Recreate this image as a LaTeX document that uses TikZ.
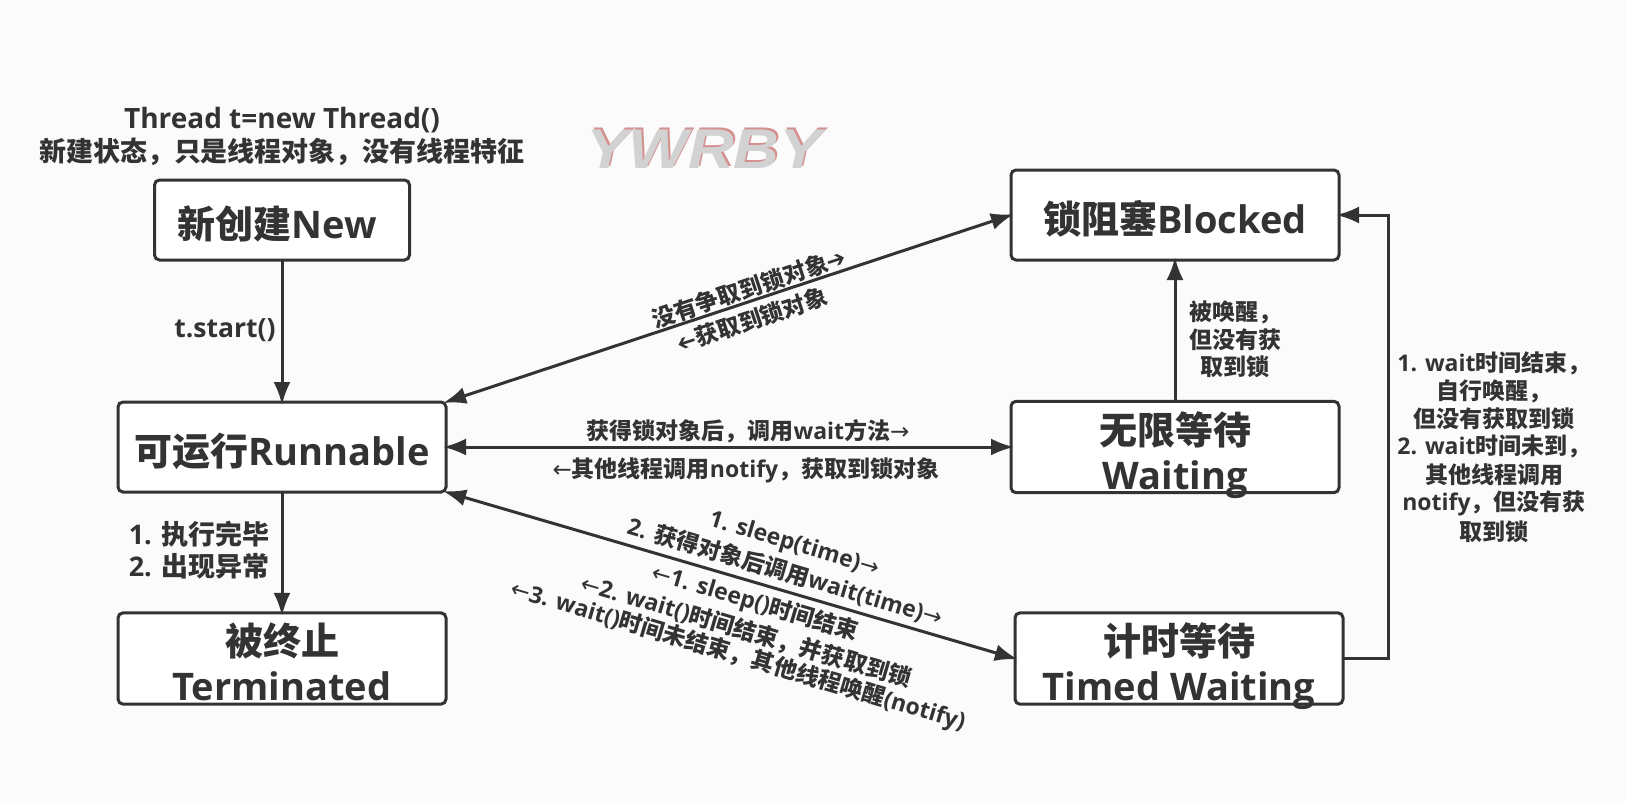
\documentclass[tikz,border=0pt]{standalone}
\usepackage{fontspec}
\usetikzlibrary{arrows.meta}
\setmainfont{Open Sans}
\newfontfamily\cjk{Noto Sans CJK SC}
\newfontfamily\arrowfont{DejaVu Sans}
\newfontfamily\markfont{Liberation Sans}
\newcommand\zh[1]{{\cjk #1}}
\newcommand\ra{{\arrowfont\mdseries→}}
\newcommand\la{{\arrowfont\mdseries←}}
\newcommand\rb{{\arrowfont\mdseries ➔}}
\newcommand\lb{\reflectbox{\arrowfont\mdseries ➔}}
\newcommand\oneline[1]{\raisebox{-4pt}[\height][\depth]{#1}}
\newcommand\twolines[2]{\raisebox{-10pt}[\height][\depth]{\begin{tabular}{@{}c@{}}#1\\#2\end{tabular}}}
\definecolor{ink}{HTML}{333333}
\definecolor{paper}{HTML}{FBFBFB}
\tikzset{
  state/.style={draw=ink,line width=3pt,rounded corners=5pt,fill=white,text=ink,inner sep=0pt,outer sep=0pt,
    minimum width=#1,minimum height=90pt,font=\fontsize{38}{45}\selectfont\bfseries,align=center},
  link/.style={draw=ink,line width=3pt,shorten >=-3pt,-{Latex[length=23pt,width=17pt]}},
  bothlink/.style={draw=ink,line width=3pt,shorten >=-3pt,shorten <=-3pt,{Latex[length=23pt,width=17pt]}-{Latex[length=23pt,width=17pt]}},
  lab/.style={text=ink,inner sep=0pt,align=center,font=\fontsize{#1}{#1}\selectfont\bfseries},
  lab/.default=23,
  headtext/.style={text=ink,inner sep=0pt,align=center,font=\fontsize{27}{33}\selectfont\bfseries},
  wmark/.style={inner sep=0pt,xscale=1.13,font=\fontsize{56}{56}\selectfont\markfont\bfseries\itshape}
}
\begin{document}
\begin{tikzpicture}[x=1pt,y=-1pt]
\useasboundingbox (0,0) rectangle (1626,801);
\fill[paper] (0,0) rectangle (1626,801);

\node[wmark,text=red!45!gray!60] (wmred) at (706,147) {YWRBY};
\node[wmark,text=gray!35] (wm) at (704,149) {YWRBY};

\node[headtext] (head) at (282,136) {{\fontsize{28}{33}\selectfont Thread t=new Thread()}\\\zh{新建状态，只是线程对象，没有线程特征}};

\node[state=255pt,minimum height=80pt] (new) at (282,220) {\hspace{-10pt}\oneline{\zh{新创建}New}};
\node[state=328pt] (run) at (282,447) {\oneline{\zh{可运行}Runnable}};
\node[state=328pt,minimum height=91pt] (term) at (282,658.5) {\twolines{\zh{被终止}}{Terminated}};
\node[state=328pt] (blocked) at (1175,215) {\oneline{\zh{锁阻塞}Blocked}};
\node[state=328pt] (wait) at (1175,447) {\twolines{\zh{无限等待}}{Waiting}};
\node[state=328pt,minimum height=91pt] (timed) at (1179,658.5) {\twolines{\zh{计时等待}}{Timed Waiting}};

\coordinate (elbowa) at (1388,658.5);
\coordinate (elbowb) at (1388,215);

\draw[link] (new) -- (run);
\draw[link] (run) -- (term);
\draw[link] (wait) -- (blocked);
\draw[bothlink] (run.east) -- (wait.west);
\draw[bothlink] (run.north east) -- (blocked.west);
\draw[bothlink] (run.south east) -- (timed.west);
\draw[link] (timed.east) -- (elbowa) -- (elbowb) -- (blocked.east);

\node[lab=26.5] (start) at (225,330) {t.start()};
\node[lab=27] (ends) at (199,550) {1. \zh{执行完毕}\\[5pt]2. \zh{出现异常}};
\node[lab=23] (wake) at (1235,339) {\zh{被唤醒，}\\[4pt]\zh{但没有获}\\[4pt]\zh{取到锁}};
\node[lab=23] (right) at (1494,447) {1. wait\zh{时间结束，}\\[4pt]\zh{自行唤醒，}\\[4pt]\zh{但没有获取到锁}\\[4pt]2. wait\zh{时间未到，}\\[4pt]\zh{其他线程调用}\\[4pt]notify\zh{，但没有获}\\[4pt]\zh{取到锁}};

\node[lab=23] (la) at (748,431) {\zh{获得锁对象后，调用}wait\zh{方法}\ra};
\node[lab=23] (lb) at (746,470) {\la\zh{其他线程调用}notify\zh{，获取到锁对象}};

\node[lab=23,rotate=18.3] (lc) at (749,288) {\zh{没有争取到锁对象}\rb};
\node[lab=23,rotate=18.3] (ld) at (752,320) {\lb\zh{获取到锁对象}};

\node[lab=23,rotate=-16.5] (l1) at (794,545) {1. sleep(time)\ra};
\node[lab=23,rotate=-16.5] (l2) at (785,572) {2. \zh{获得对象后调用}wait(time)\ra};
\node[lab=23,rotate=-16.5] (l3) at (755,603) {\la 1. sleep()\zh{时间结束}};
\node[lab=23,rotate=-16.5] (l4) at (746,631) {\la 2. wait()\zh{时间结束，并获取到锁}};
\node[lab=23,rotate=-16.5] (l5) at (738,656) {\la 3. wait()\zh{时间未结束，其他线程唤醒}(notify)};
\end{tikzpicture}
\end{document}
